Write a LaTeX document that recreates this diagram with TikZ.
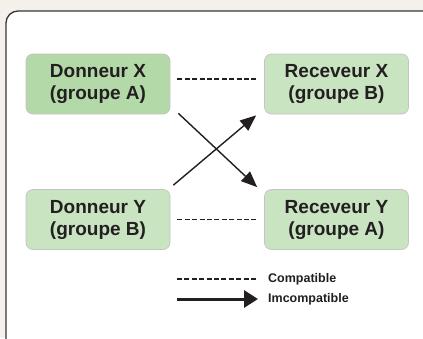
\documentclass[tikz,border=0pt]{standalone}
\usepackage{fontspec}
\setmainfont{Liberation Sans}
\usepackage{tikz}
\usetikzlibrary{arrows.meta}

\definecolor{pageBg}{HTML}{F4F0EA}
\definecolor{donorDark}{HTML}{B3D9A9}
\definecolor{boxLight}{HTML}{C9E4C1}
\definecolor{boxEdge}{HTML}{C4C4C4}
\definecolor{inkDark}{HTML}{231F20}

\begin{document}
\begin{tikzpicture}[x=1pt, y=-1pt,
	groupBox/.style={rectangle, rounded corners=7pt, draw=boxEdge, line width=0.7pt, minimum width=144pt, minimum height=60pt, align=center, text=inkDark, font=\fontsize{19}{22}\selectfont\bfseries},
	compatLine/.style={draw=inkDark, line width=1.3pt, dash pattern=on 5pt off 2.4pt},
	incompatArrow/.style={draw=inkDark, line width=1.4pt, -{Triangle[length=16pt,width=13pt]}},
	legendText/.style={anchor=west, inner xsep=10pt, inner ysep=0pt, text=inkDark, font=\fontsize{12.5}{14}\selectfont\bfseries}]
	\clip (0,0) rectangle (423,338);
	\fill[pageBg] (0,0) rectangle (423,338);
	\draw[fill=white, draw=inkDark!90, line width=1.3pt, rounded corners=12pt] (6,11) rectangle (440,352);

	\node[groupBox, fill=donorDark](donorX) at (98,84){Donneur X\\(groupe A)};
	\node[groupBox, fill=boxLight](recipX) at (336.5,84){Receveur X\\(groupe B)};
	\node[groupBox, fill=boxLight](donorY) at (98,219.5){Donneur Y\\(groupe B)};
	\node[groupBox, fill=boxLight](recipY) at (336.5,219.5){Receveur Y\\(groupe A)};

	\draw[compatLine] ([xshift=7pt,yshift=5pt]donorX.east) -- ([xshift=-7pt,yshift=5pt]recipX.west);
	\draw[compatLine] ([xshift=7pt]donorY.east) -- ([xshift=-7pt]recipY.west);
	\draw[incompatArrow] ([xshift=8pt,yshift=1pt]donorX.south east) -- ([xshift=-7pt,yshift=2pt]recipY.north west);
	\draw[incompatArrow] ([xshift=3pt,yshift=4pt]donorY.north east) -- ([xshift=-8pt,yshift=-1pt]recipX.south west);

	\node[legendText](compatKey) at (258,279){Compatible};
	\node[legendText](incompatKey) at (258,299){Imcompatible};
	\coordinate (compatStart) at (177,279);
	\coordinate (incompatStart) at (177,299);
	\draw[compatLine] (compatStart) -- (compatKey.west);
	\draw[draw=inkDark, line width=3pt, -{Triangle[length=14pt,width=17pt]}] (incompatStart) -- (incompatKey.west);
\end{tikzpicture}
\end{document}
